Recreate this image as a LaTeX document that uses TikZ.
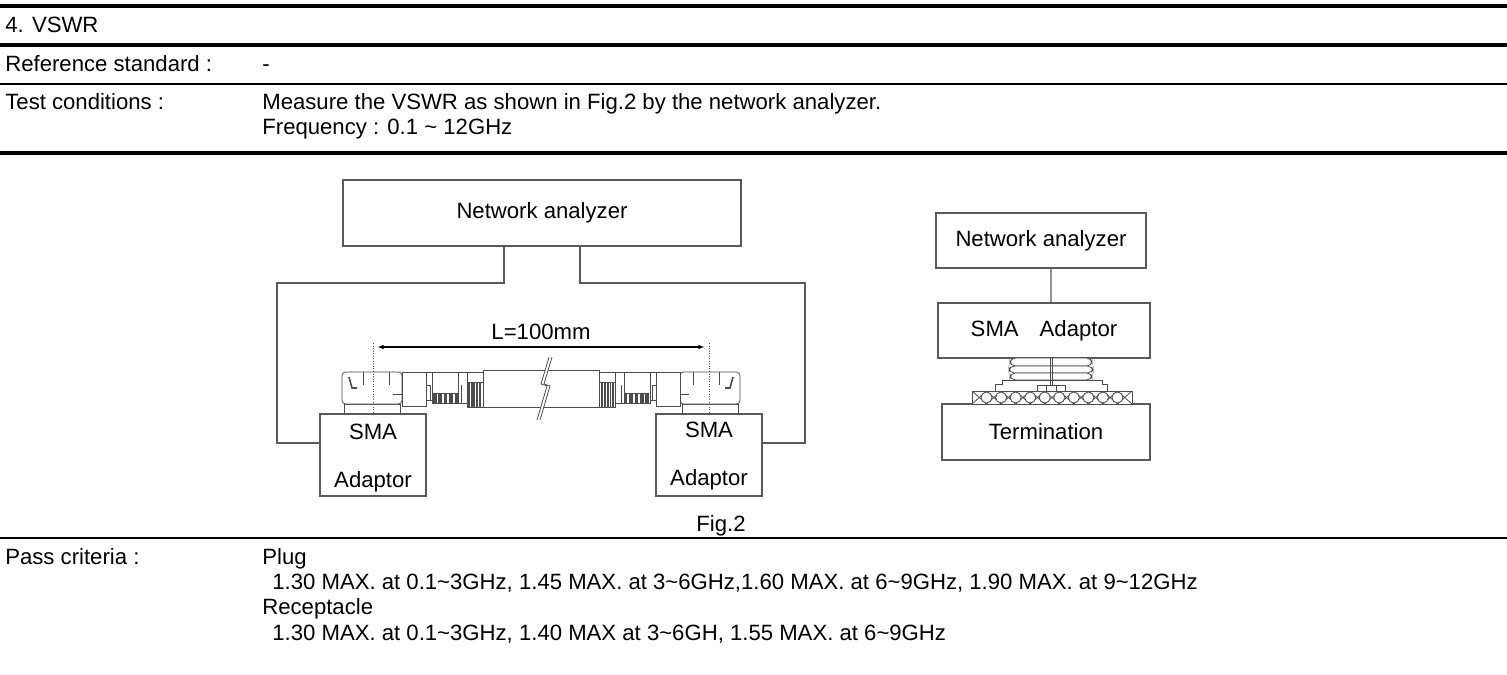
\documentclass[tikz,border=0pt]{standalone}
\usepackage{fontspec}
\setmainfont{Liberation Sans}
\usetikzlibrary{arrows.meta}
\begin{document}
\begin{tikzpicture}[
        x=0.02cm,
        y=-0.02cm,
        font=\fontsize{12.6}{15}\selectfont
    ]
    \tikzset{
        txtn/.style = {anchor=base west, inner sep=0pt},
        boxn/.style = {rectangle, draw=black!65, line width=0.7pt, inner sep=0pt},
        wiren/.style = {-, draw=black!65, line width=0.7pt},
        ruleb/.style = {-, line width=2pt},
        rulen/.style = {-, line width=1.3pt},
        partn/.style = {draw=black!70, line width=0.45pt, fill=white},
        ridgen/.style = {fill=black!70},
        dotn/.style = {densely dotted, draw=black!70, line width=0.45pt},
        dimn/.style = {{Latex[length=3.5pt,width=2.5pt]}-{Latex[length=3.5pt,width=2.5pt]}, line width=0.6pt},
    }
    \useasboundingbox (0,0) rectangle (1507,675);
    %
    \draw[ruleb] (0,6) -- (1507,6);
    \draw[ruleb] (0,45) -- (1507,45);
    \draw[rulen] (0,84) -- (1507,84);
    \draw[ruleb] (0,153) -- (1507,153);
    \draw[rulen] (0,538) -- (1507,538);
    %
    \node[txtn] (title) at (5,33) {4. VSWR};
    \node[txtn] (refl) at (5,72) {Reference standard :};
    \node[txtn] (refv) at (262,72) {-};
    \node[txtn] (testl) at (5,110) {Test conditions :};
    \node[txtn] (testa) at (262,110) {Measure the VSWR as shown in Fig.2 by the network analyzer.};
    \node[txtn] (testb) at (262,135) {Frequency : 0.1 \textasciitilde{} 12GHz};
    %
    \node[txtn] (passl) at (5,564) {Pass criteria :};
    \node[txtn] (plug) at (262,564) {Plug};
    \node[txtn] (plugv) at (272,589) {1.30 MAX. at 0.1\textasciitilde3GHz, 1.45 MAX. at 3\textasciitilde6GHz,1.60 MAX. at 6\textasciitilde9GHz, 1.90 MAX. at 9\textasciitilde12GHz};
    \node[txtn] (recp) at (262,614) {Receptacle};
    \node[txtn] (recpv) at (272,640) {1.30 MAX. at 0.1\textasciitilde3GHz, 1.40 MAX at 3\textasciitilde6GH, 1.55 MAX. at 6\textasciitilde9GHz};
    %
    \node (fig) at (721,526) {Fig.2};
    %
    % cable assembly
    \draw[partn] (483,370) rectangle (599,407);
    \foreach \s in {1,-1} {
        \begin{scope}[shift={(541,0)}, xscale=\s]
            \draw[partn] (-197,404) rectangle (-141,414);
            \draw[partn, rounded corners=2pt] (-199,372) rectangle (-139,404);
            \draw[partn] (-178,372) -- (-178,385);
            \draw[partn] (-152,372) -- (-152,385);
            \draw[partn, line width=0.9pt] (-192,377) -- (-189,388) -- (-184,388);
            \draw[partn] (-148,394) -- (-139,394);
            \draw[partn] (-139,372) rectangle (-115,406);
            \draw[partn] (-115,372) rectangle (-109,400);
            \draw[partn] (-115,385) rectangle (-111,400);
            \draw[partn] (-109,372) rectangle (-83,393);
            \draw[partn] (-109,393) -- (-109,403) -- (-83,403);
            \foreach \t in {0,...,4}
                \fill[ridgen] (-108+5.4*\t,393) rectangle ++(3.6,10);
            \draw[partn] (-83,372) rectangle (-74,403);
            \draw[partn] (-80,385) -- (-80,403);
            \draw[partn] (-74,372) rectangle (-58,382);
            \draw[partn] (-74,382) rectangle (-58,407);
            \foreach \t in {0,...,4}
                \fill[ridgen] (-73+2.7*\t,382) rectangle ++(1.8,25);
        \end{scope}
    }
    % break mark
    \fill[white] (549,357) -- (541,384) -- (547,386) -- (537,420) -- (540,420) -- (550,386) -- (544,384) -- (552,357) -- cycle;
    \draw[partn, fill=none] (549,357) -- (541,384) -- (547,386) -- (537,420);
    \draw[partn, fill=none] (552,357) -- (544,384) -- (550,386) -- (540,420);
    %
    \node[boxn, minimum width=7.96cm, minimum height=1.32cm] (naL) at (542,213) {Network analyzer};
    \node[boxn, minimum width=2.12cm, minimum height=1.64cm] (smaL) at (373,455) {};
    \node[boxn, minimum width=2.12cm, minimum height=1.64cm] (smaR) at (709,455) {};
    \node (smaLa) at (373,432) {SMA};
    \node (smaLb) at (373,482) {Adaptor};
    \node (smaRa) at (709,430) {SMA};
    \node (smaRb) at (709,480) {Adaptor};
    %
    \draw[wiren] ([xshift=-0.76cm]naL.south) |- (277,283) |- ([yshift=0.24cm]smaL.west);
    \draw[wiren] ([xshift=0.76cm]naL.south) |- (805,283) |- ([yshift=0.24cm]smaR.east);
    %
    \coordinate (dimL) at (373,347);
    \coordinate (dimR) at (709,347);
    \draw[dotn] (dimL) ++(0,-4) -- ++(0,72);
    \draw[dotn] (dimR) ++(0,-4) -- ++(0,72);
    \draw[dimn, shorten <=2.5pt, shorten >=2.5pt] (dimL) -- (dimR);
    \node (dimtxt) at (541,332) {L=100mm};
    %
    % termination set-up
    \node[boxn, minimum width=4.2cm, minimum height=1.1cm] (naR) at (1041,240.5) {Network analyzer};
    \node[boxn, minimum width=4.24cm, minimum height=1.1cm] (smaA) at (1044,330.5) {SMA\hspace{0.95em}Adaptor};
    \node[boxn, minimum width=4.16cm, minimum height=1.12cm] (term) at (1046,432) {Termination};
    \draw[wiren] ([xshift=0.2cm]naR.south) -- ([xshift=0.14cm]smaA.north);
    %
    \draw[partn, rounded corners=3pt] (1010,358) rectangle (1092,366);
    \draw[partn, rounded corners=3pt] (1009,366) rectangle (1093,373);
    \draw[partn, rounded corners=3pt] (1010,373) rectangle (1092,380);
    \draw[partn] (995,391) -- (995,384) -- (1002,384) -- (1002,380) -- (1102,380) -- (1102,384) -- (1107,384) -- (1107,391);
    \draw[partn] (1037,385) rectangle (1065,391);
    \draw[partn] (1046,385) -- (1046,391);
    \draw[partn] (1056,385) -- (1056,391);
    \draw[partn] (1050,358) -- (1050,385);
    \draw[partn] (1052,358) -- (1052,385);
    % hatched pad
    \draw[partn] (972,391) rectangle (1132,404);
    \begin{scope}
        \clip (972,391) rectangle (1132,404);
        \foreach \i in {0,...,10} {
            \draw[partn] (972+\i*14.545,391) -- ++(14.545,13);
            \draw[partn] (972+\i*14.545,404) -- ++(14.545,-13);
        }
        \foreach \i in {1,...,10}
            \draw[partn] (972+\i*14.545,397.5) circle[radius=5.5];
    \end{scope}
    \draw[partn, fill=none] (972,391) rectangle (1132,404);
\end{tikzpicture}
\end{document}
